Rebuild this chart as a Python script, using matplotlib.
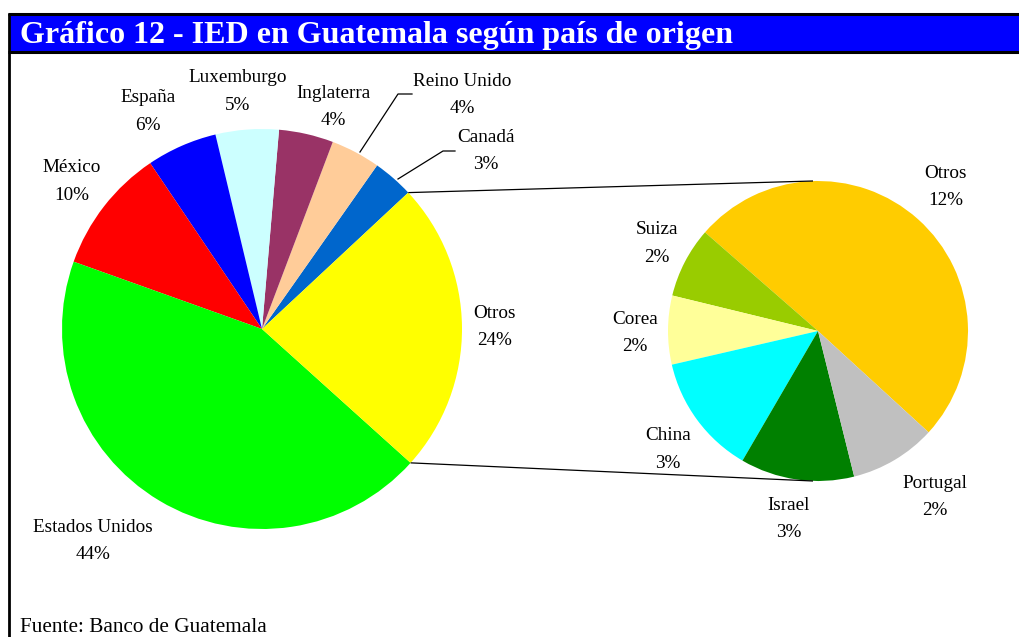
import matplotlib
matplotlib.use("Agg")
import matplotlib.pyplot as plt
from matplotlib.patches import Rectangle
import numpy as np

# ---------------- data ----------------
main_labels = ["Canadá", "Reino Unido", "Inglaterra", "Luxemburgo", "España",
               "México", "Estados Unidos", "Otros"]
main_values_known = [3.3, 4.0, 4.4, 5.1, 5.7, 10.1, 43.8]
main_colors = ["#0066CC", "#FFCC99", "#993366", "#CCFFFF", "#0000FF",
               "#FF0000", "#00FF00", "#FFFF00"]

sub_labels = ["Otros", "Suiza", "Corea", "China", "Israel", "Portugal"]
sub_values = [11.9, 1.8, 1.75, 3.07, 2.9, 2.2]
sub_colors = ["#FFCC00", "#99CC00", "#FFFF99", "#00FFFF", "#008000", "#C0C0C0"]

main_values = main_values_known + [sum(sub_values)]

title = "Gráfico 12 - IED en Guatemala según país de origen"
source = "Fuente: Banco de Guatemala"

# ---------------- layout (pixel coordinates, y downward) ----------------
W, H = 1019, 637
def Y(y):
    return H - y

main_center = (262, 329)
main_radius = 200
sub_center = (818, 331)
sub_radius = 150

main_label_pos = {
    "Canadá": (486, 137), "Reino Unido": (462, 81), "Inglaterra": (333, 93),
    "Luxemburgo": (238, 78), "España": (148, 98), "México": (72, 168),
    "Estados Unidos": (93, 527), "Otros": (495, 313),
}
sub_label_pos = {
    "Otros": (946, 173), "Suiza": (657, 230), "Corea": (635, 319),
    "China": (668, 436), "Israel": (789, 505), "Portugal": (935, 483),
}
leaders = {
    "Reino Unido": [(360, 152), (398, 94), (412, 94)],
    "Canadá": [(398, 179), (443, 151), (455, 151)],
}

FONT = "Liberation Serif"
LFS = 13.8
LINE = 27.5

fig = plt.figure(figsize=(W / 100, H / 100), dpi=100)
ax = fig.add_axes([0, 0, 1, 1])

# pies
mw, _ = ax.pie(main_values, colors=main_colors, startangle=43, counterclock=True,
               center=(main_center[0], Y(main_center[1])), radius=main_radius,
               wedgeprops=dict(linewidth=0), frame=True)
sw, _ = ax.pie(sub_values, colors=sub_colors, startangle=-42.5, counterclock=True,
               center=(sub_center[0], Y(sub_center[1])), radius=sub_radius,
               wedgeprops=dict(linewidth=0), frame=True)

ax.set_xlim(0, W)
ax.set_ylim(0, H)
ax.set_aspect("equal")
ax.axis("off")

# connector lines between pies
ow = mw[-1]
for ang, dy in [(ow.theta2, sub_radius), (ow.theta1, -sub_radius)]:
    a = np.deg2rad(ang)
    x0 = main_center[0] + main_radius * np.cos(a)
    y0 = Y(main_center[1]) + main_radius * np.sin(a)
    ax.plot([x0, sub_center[0] - 5], [y0, Y(sub_center[1]) + dy],
            color="black", lw=0.9, solid_capstyle="butt")

# labels
def label(name, val, pos):
    x, y = pos
    ax.text(x, Y(y), name, ha="center", va="center", fontsize=LFS,
            family=FONT, color="black")
    ax.text(x, Y(y + LINE), f"{round(val)}%", ha="center", va="center",
            fontsize=LFS, family=FONT, color="black")

for n, v in zip(main_labels, main_values):
    label(n, v, main_label_pos[n])
for n, v in zip(sub_labels, sub_values):
    label(n, v, sub_label_pos[n])

for n, pts in leaders.items():
    xs = [p[0] for p in pts]
    ys = [Y(p[1]) for p in pts]
    ax.plot(xs, ys, color="black", lw=0.9)

# title bar and frame
ax.add_patch(Rectangle((9, Y(52)), W, 38, facecolor="#0000FF", edgecolor="none",
                       zorder=5))
ax.plot([8, W], [Y(14), Y(14)], color="black", lw=2.2, zorder=6,
        solid_capstyle="butt")
ax.plot([8, W], [Y(52), Y(52)], color="black", lw=2.2, zorder=6,
        solid_capstyle="butt")
ax.plot([9, 9], [Y(13), 0], color="black", lw=2.0, zorder=6,
        solid_capstyle="butt")
ax.text(20, Y(35), title, ha="left", va="center", fontsize=23,
        fontweight="bold", family=FONT, color="white", zorder=7)

ax.text(20, Y(632), source, ha="left", va="baseline", fontsize=15.3,
        family=FONT, color="black")

fig.savefig("out.png", dpi=100, facecolor="white")
